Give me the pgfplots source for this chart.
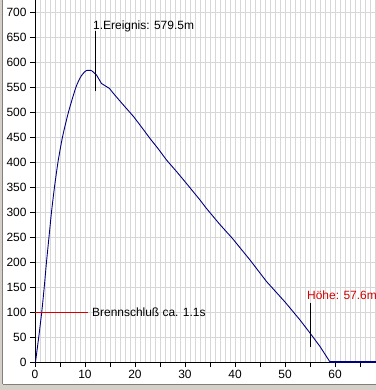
\documentclass[border=0pt]{standalone}
\usepackage{fontspec}
\setmainfont{Liberation Sans}
\usepackage{pgfplots}
\pgfplotsset{compat=1.18}
\definecolor{curve}{RGB}{0,0,128}
\definecolor{gridc}{RGB}{215,215,215}
\definecolor{redc}{RGB}{210,0,0}
\definecolor{face}{RGB}{212,208,200}
\definecolor{shadow}{RGB}{128,128,128}
\begin{document}
\begin{tikzpicture}[x=1bp,y=1bp]
\begin{axis}[
  at={(0,0)}, anchor=south west,
  scale only axis, width=341bp, height=362bp,
  xmin=0, xmax=68.2, ymin=0, ymax=724,
  axis lines*=left,
  axis line style={black, line width=0.8bp},
  tick align=outside,
  major tick length=5bp,
  minor tick length=0pt,
  tick style={black, line width=0.8bp},
  xtick={0,10,...,60},
  minor xtick={0,1,...,68},
  ytick={0,50,...,700},
  extra x ticks={5,15,...,65},
  extra x tick labels={},
  extra tick style={grid=none},
  grid=both,
  major grid style={gridc, line width=0.8bp},
  minor grid style={gridc, line width=0.8bp},
  font=\fontsize{12}{14}\selectfont,
  /pgf/number format/assume math mode=true,
  scaled y ticks=false,
  clip=false,
]
\addplot[curve, line width=0.9bp, smooth, tension=0.4] coordinates {
(0.1,0) (0.75,50) (1.35,100) (1.85,150) (2.3,200) (2.8,250) (3.3,300)
(3.9,350) (4.6,400) (5.5,450) (6.7,500) (8.2,550) (9.3,573)
(10.3,583) (11.3,583)
};
\addplot[curve, line width=0.9bp] coordinates {
(11.3,583) (12.3,574) (13.3,557) (14.9,547) (15.7,537)
(17.5,516) (19.7,491) (21.3,470) (23,447) (24.6,427) (26.3,404) (28.3,381)
(30.3,357) (33,324) (34.3,307) (36.8,277) (39.5,247) (43,204) (46.3,161)
(50,120) (53,84) (55,58) (57,31) (59,0)
};
\addplot[curve, line width=2bp] coordinates {(59,0) (68.2,0)};
% annotations
\addplot[black, line width=0.8bp] coordinates {(12,541) (12,661)};
\node[anchor=base west, inner sep=0pt, font=\fontsize{12}{14}\selectfont] at (axis cs:11.6,664) {1.Ereignis: 579.5m};
\addplot[redc, line width=0.8bp] coordinates {(0,100) (10.6,100)};
\node[anchor=west, inner sep=0pt, font=\fontsize{12}{14}\selectfont] at (axis cs:11.4,100) {Brennschluß ca. 1.1s};
\addplot[black, line width=0.8bp] coordinates {(55,30) (55,118)};
\node[anchor=base west, inner sep=0pt, text=redc, font=\fontsize{12}{14}\selectfont] at (axis cs:54.4,124) {Höhe: 57.6m};
\end{axis}
% window frame
\fill[face] (-35bp,-28bp) rectangle (-32bp,362bp);
\draw[shadow, line width=1bp] (-32bp,-22bp) -- (-32bp,362bp);
\fill[face] (-35bp,-28bp) rectangle (341bp,-22bp);
\draw[shadow, line width=1bp] (-32bp,-22bp) -- (341bp,-22bp);
\pgfresetboundingbox
\path[use as bounding box] (-35bp,-28bp) rectangle (341bp,362bp);
\end{tikzpicture}
\end{document}
